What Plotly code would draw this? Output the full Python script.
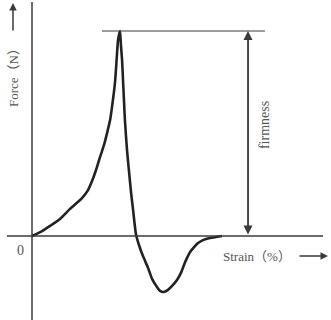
import plotly.graph_objects as go

# Curve data (arbitrary units: strain %, force normalised so peak = 100)
strain = [0, 5.3, 9.5, 14.7, 20.0, 26.3, 29.5, 31.6, 33.7, 35.8, 37.9, 39.5, 41.1, 42.1,
          43.7, 44.7, 45.3, 46.3, 46.8, 47.4, 47.9, 48.4, 48.9, 50.0, 51.1, 52.1, 53.2,
          54.7, 56.3, 58.4, 61.1, 63.2, 65.8, 67.4, 69.5, 71.6, 74.2, 76.3, 78.4, 80.0,
          81.6, 83.2, 85.3, 87.4, 90.0, 93.7, 96.8, 100.0]
force = [0, 2.4, 4.9, 8.3, 13.2, 18.5, 22.4, 26.8, 32.2, 38.5, 44.4, 50.2, 56.6, 62.9,
         75.1, 88.3, 95.6, 100.0, 93.2, 85.9, 76.1, 66.3, 56.6, 42.0, 31.2, 21.5, 12.7,
         1.0, -4.4, -9.8, -15.6, -20.9, -24.9, -26.8, -27.3, -26.3, -23.9, -21.5, -18.0,
         -14.1, -10.7, -7.8, -5.4, -3.4, -2.0, -1.0, -0.5, 0.0]

peak_force = max(force)
firm_line_x = [36.8, 122.6]
firm_arrow_x = 113.7

x_range = [-16.84, 157.37]
y_range = [-40.98, 115.12]

axcol = "#3a3a3a"
txtcol = "#555555"
font_fam = "Liberation Serif, Noto Sans CJK SC, serif"

fig = go.Figure()
fig.add_trace(go.Scatter(x=strain, y=force, mode="lines",
                         line=dict(color="#222222", width=2.6, shape="spline", smoothing=0.6),
                         hoverinfo="skip", showlegend=False))

shapes = [
    dict(type="line", xref="x", yref="y", x0=-13.2, x1=153.2, y0=0, y1=0,
         line=dict(color=axcol, width=1.5)),
    dict(type="line", xref="x", yref="y", x0=0, x1=0, y0=-41.0, y1=114.1,
         line=dict(color=axcol, width=1.5)),
    dict(type="line", xref="x", yref="y", x0=firm_line_x[0], x1=firm_line_x[1],
         y0=peak_force, y1=peak_force, line=dict(color=axcol, width=1.0)),
]

annotations = [
    # double arrow for firmness
    dict(x=firm_arrow_x, y=peak_force, ax=firm_arrow_x, ay=0, xref="x", yref="y",
         axref="x", ayref="y", text="", showarrow=True, arrowhead=2, startarrowhead=2,
         arrowside="end+start", arrowwidth=1.8, arrowsize=1.0, startarrowsize=1.0,
         arrowcolor=axcol, standoff=0, startstandoff=0),
    # force arrow
    dict(x=-10.0, y=113.7, ax=-10.0, ay=99.5, xref="x", yref="y", axref="x", ayref="y",
         text="", showarrow=True, arrowhead=2, arrowwidth=1.5, arrowsize=1.0,
         arrowcolor=axcol),
    # strain arrow
    dict(x=155.8, y=-9.8, ax=140.0, ay=-9.8, xref="x", yref="y", axref="x", ayref="y",
         text="", showarrow=True, arrowhead=2, arrowwidth=1.5, arrowsize=1.0,
         arrowcolor=axcol),
    dict(x=-10.0, y=78.5, xref="x", yref="y", text="Force（N）", showarrow=False,
         textangle=-90, font=dict(family=font_fam, size=13, color=txtcol)),
    dict(x=-6.3, y=-7.3, xref="x", yref="y", text="0", showarrow=False,
         font=dict(family=font_fam, size=14, color=txtcol)),
    dict(x=118.4, y=-9.8, xref="x", yref="y", text="Strain（%）", showarrow=False,
         font=dict(family=font_fam, size=13, color=txtcol)),
    dict(x=122.1, y=54.1, xref="x", yref="y", text="firmness", showarrow=False,
         textangle=-90, font=dict(family=font_fam, size=14, color=txtcol)),
]

fig.update_layout(
    width=331, height=320, margin=dict(l=0, r=0, t=0, b=0),
    paper_bgcolor="white", plot_bgcolor="white",
    xaxis=dict(range=x_range, visible=False, fixedrange=True),
    yaxis=dict(range=y_range, visible=False, fixedrange=True),
    shapes=shapes, annotations=annotations, showlegend=False,
)

fig.write_html("out.html")
